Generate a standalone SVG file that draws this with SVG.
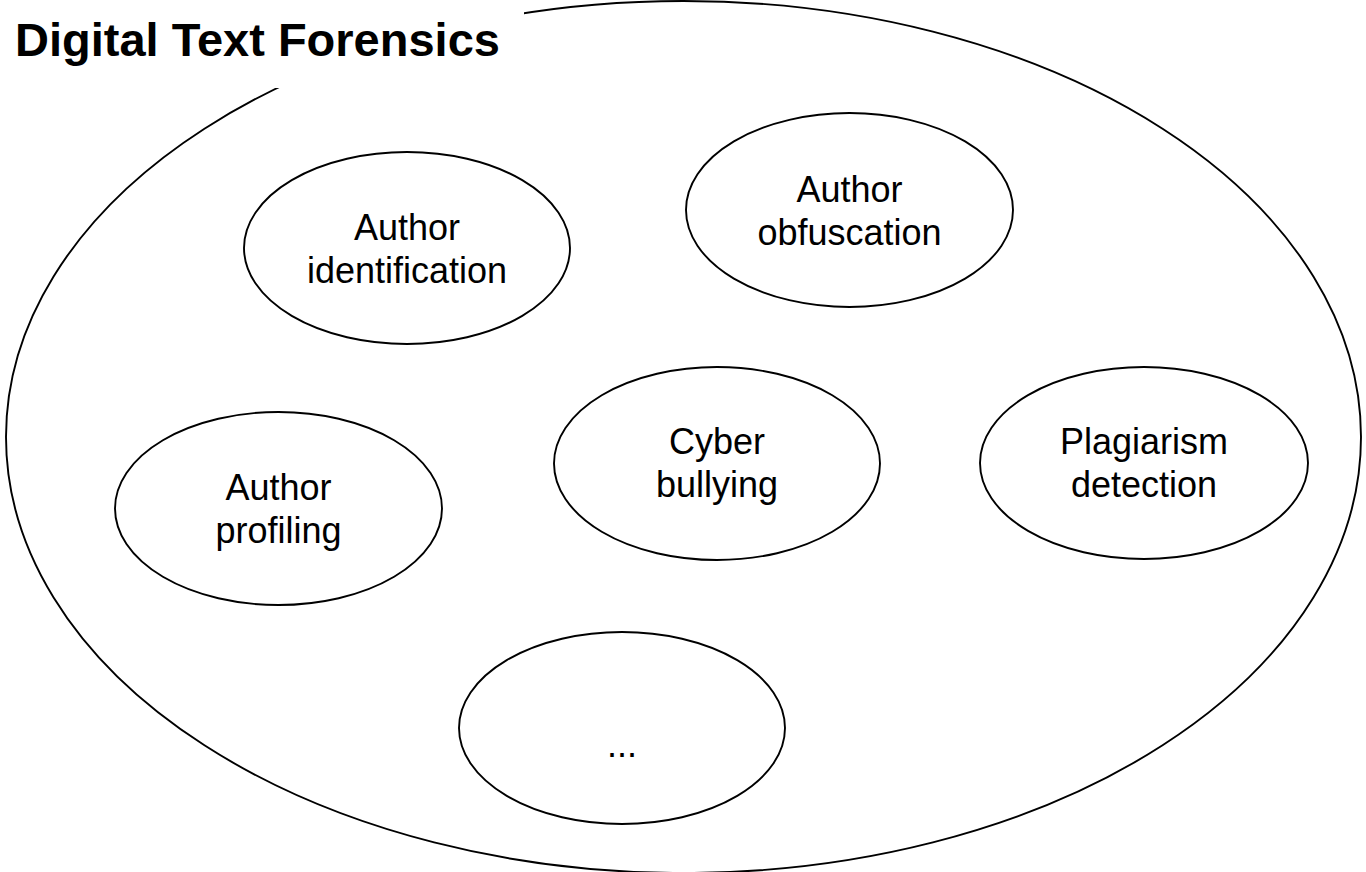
<svg xmlns="http://www.w3.org/2000/svg" width="1366" height="872" viewBox="0 0 1366 872">
  <style>
    .shape { fill: #ffffff; stroke: #000000; stroke-width: 1.9; }
    .lbl { font-family: "Liberation Sans", Arial, Helvetica, sans-serif; font-size: 36px; fill: #000000; text-anchor: middle; }
    .title { font-family: "Liberation Sans", Arial, Helvetica, sans-serif; font-size: 47px; font-weight: bold; fill: #000000; }
  </style>
  <rect width="1366" height="872" fill="#ffffff"/>
  <g id="container">
    <ellipse class="shape" cx="683.5" cy="437" rx="677.5" ry="436"/>
    <rect x="0" y="0" width="524" height="88" fill="#ffffff"/>
    <text class="title" x="15" y="56">Digital Text Forensics</text>
  </g>
  <g id="connectors"></g>
  <g id="author-identification">
    <ellipse class="shape" cx="407" cy="248" rx="163" ry="96"/>
    <text class="lbl" x="407" y="240">Author</text>
    <text class="lbl" x="407" y="283">identification</text>
  </g>
  <g id="author-obfuscation">
    <ellipse class="shape" cx="849.5" cy="210" rx="163.5" ry="97"/>
    <text class="lbl" x="849.5" y="202">Author</text>
    <text class="lbl" x="849.5" y="245">obfuscation</text>
  </g>
  <g id="author-profiling">
    <ellipse class="shape" cx="278.5" cy="508.5" rx="163.5" ry="96.5"/>
    <text class="lbl" x="278.5" y="500">Author</text>
    <text class="lbl" x="278.5" y="543">profiling</text>
  </g>
  <g id="cyber-bullying">
    <ellipse class="shape" cx="717" cy="463.5" rx="163" ry="96.5"/>
    <text class="lbl" x="717" y="454">Cyber</text>
    <text class="lbl" x="717" y="497">bullying</text>
  </g>
  <g id="plagiarism-detection">
    <ellipse class="shape" cx="1144" cy="463" rx="164" ry="96"/>
    <text class="lbl" x="1144" y="454">Plagiarism</text>
    <text class="lbl" x="1144" y="497">detection</text>
  </g>
  <g id="more">
    <ellipse class="shape" cx="622" cy="728" rx="163" ry="96"/>
    <text class="lbl" x="622" y="757">...</text>
  </g>
</svg>
